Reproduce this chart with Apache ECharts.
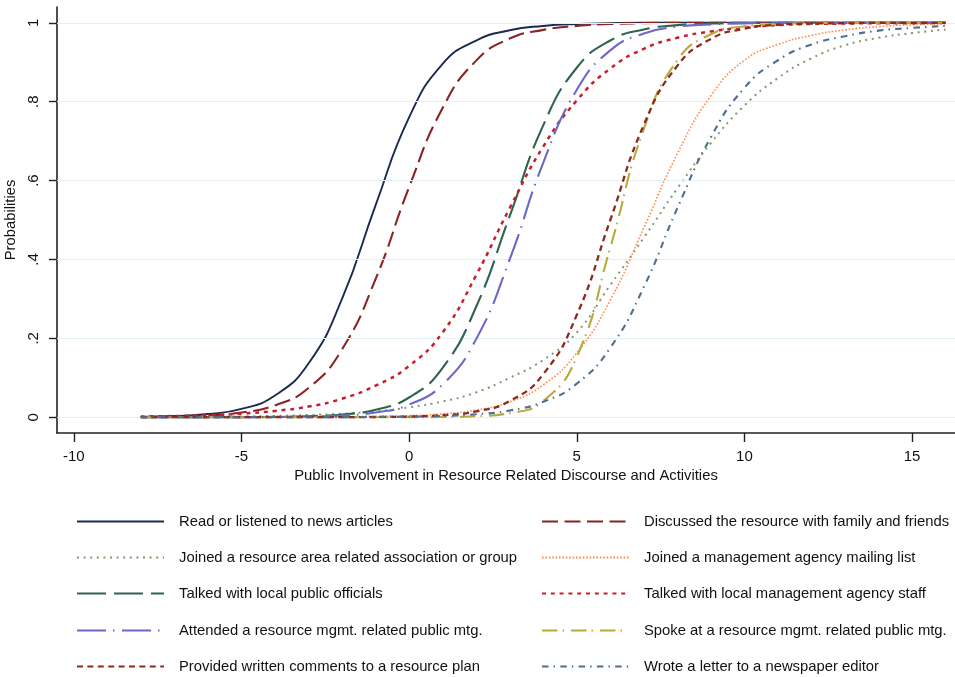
<!DOCTYPE html>
<html>
<head>
<meta charset="utf-8">
<script src="https://cdn.jsdelivr.net/npm/echarts@6/dist/echarts.min.js"></script>
<style>html,body{margin:0;padding:0;background:#fff}#c{width:955px;height:677px}</style>
</head>
<body>
<div id="c"></div>
<script>
// x positions of the read values
const xs = [-8,-7,-6,-5,-4,-3,-2,-1,0,1,2,3,4,5,6,7,8,9,10,11,12,13,14,15,16];
const yTicks = [0,0.2,0.4,0.6,0.8,1];
const xTicks = [-10,-5,0,5,10,15];

const readNews   = [0.001,0.003,0.008,0.021,0.055,0.136,0.30,0.537,0.76,0.896,0.955,0.981,0.992,0.997,0.999,1,1,1,1,1,1,1,1,1,1];
const discussed  = [0.0007,0.0018,0.0046,0.012,0.030,0.074,0.172,0.35,0.583,0.784,0.904,0.96,0.982,0.992,0.997,0.999,1,1,1,1,1,1,1,1,1];
const assoc      = [0.0005,0.0008,0.0013,0.002,0.0034,0.0056,0.009,0.015,0.025,0.04,0.063,0.1,0.145,0.215,0.335,0.455,0.58,0.695,0.79,0.86,0.91,0.943,0.962,0.974,0.983];
const mailing    = [0,0.0001,0.0002,0.0003,0.0005,0.0009,0.0015,0.0025,0.004,0.0085,0.018,0.039,0.082,0.163,0.297,0.48,0.668,0.815,0.905,0.945,0.968,0.982,0.99,0.995,0.997];
const officials  = [0,0,0.0001,0.0003,0.001,0.0026,0.007,0.019,0.05,0.125,0.28,0.51,0.74,0.886,0.955,0.983,0.994,0.998,0.999,1,1,1,1,1,1];
const staff      = [0.002,0.003,0.005,0.009,0.016,0.027,0.047,0.08,0.13,0.215,0.36,0.53,0.686,0.803,0.884,0.934,0.962,0.978,0.988,0.994,0.997,0.998,0.999,0.999,1];
const attended   = [0,0,0,0.0002,0.0006,0.0017,0.0045,0.012,0.032,0.083,0.198,0.40,0.645,0.83,0.93,0.973,0.99,0.996,0.999,1,1,1,1,1,1];
const spoke      = [0,0,0,0,0,0,0,0,0.0001,0.0006,0.0025,0.0103,0.041,0.153,0.43,0.731,0.905,0.971,0.991,0.997,0.999,1,1,1,1];
const provided   = [0,0,0,0,0,0.0001,0.0002,0.0006,0.0018,0.0052,0.0146,0.041,0.109,0.259,0.5,0.741,0.891,0.959,0.985,0.995,0.998,0.999,1,1,1];
const letter     = [0.0001,0.0001,0.0001,0.0001,0.0001,0.0001,0.0003,0.0006,0.0014,0.0033,0.0076,0.017,0.039,0.085,0.176,0.33,0.53,0.71,0.835,0.905,0.945,0.966,0.98,0.987,0.992];

const names = [
  'Read or listened to news articles',
  'Discussed the resource with family and friends',
  'Joined a resource area related association or group',
  'Joined a management agency mailing list',
  'Talked with local public officials',
  'Talked with local management agency staff',
  'Attended a resource mgmt. related public mtg.',
  'Spoke at a resource mgmt. related public mtg.',
  'Provided written comments to a resource plan',
  'Wrote a letter to a newspaper editor'
];
const values = [readNews, discussed, assoc, mailing, officials, staff, attended, spoke, provided, letter];
const styles = [
  {color:'#1b2a4e', width:1.9, type:'solid'},
  {color:'#8a2424', width:2.1, type:[16,6.5]},
  {color:'#86966e', width:2, type:[2,4.6]},
  {color:'#ff8a4c', width:1.6, type:[1.6,1.8]},
  {color:'#2f654c', width:2.1, type:[29,8]},
  {color:'#c91d2e', width:2.5, type:[4,4.8]},
  {color:'#6c68c9', width:2.1, type:[29,7,1.5,7.5]},
  {color:'#b9aa3c', width:2.1, type:[15.5,5,1.5,7]},
  {color:'#8c2a1e', width:2.3, type:[6,4.4]},
  {color:'#4f6f91', width:2.1, type:[6.5,5,1.5,5.3]}
];

const FONT = 'Liberation Sans, Arial, Helvetica, sans-serif';
const series = [{
  type:'line', data:[], z:1, silent:true,
  markLine:{silent:true, symbol:'none', label:{show:false},
    lineStyle:{color:'#e4eff3', width:1.2, type:'solid'},
    data: yTicks.map(v=>({yAxis:v}))}
}];
names.forEach((n,i)=>{
  series.push({
    name:n, type:'line', z:2+i, symbol:'none', smooth:0.5,
    data: xs.map((x,j)=>[x, values[i][j]]),
    lineStyle:{color:styles[i].color, width:styles[i].width, type:styles[i].type},
    itemStyle:{color:styles[i].color}
  });
});

// legend: two columns, five rows (row-major order as in the original)
const rowCenters = [522, 558, 594, 631, 667];
const colLefts = [76, 541];
const legends = names.map((n,i)=>({
  orient:'horizontal', left:colLefts[i%2], top:rowCenters[Math.floor(i/2)]-8,
  itemWidth:87, itemHeight:14, padding:0,
  textStyle:{fontFamily:FONT, fontSize:14.8, color:'#111', padding:[0,0,0,10]},
  itemStyle:{opacity:0, color:'rgba(0,0,0,0)', borderWidth:0},
  selectedMode:false, data:[n]
}));

const chart = echarts.init(document.getElementById('c'), null, {renderer:'canvas'});
chart.setOption({
  animation:false,
  backgroundColor:'#fff',
  grid:{left:57, right:0, top:7, bottom:244, containLabel:false, outerBoundsMode:'none'},
  xAxis:{type:'value', min:-10.5, max:16.28,
    name:'Public Involvement in Resource Related Discourse and Activities',
    nameLocation:'middle', nameGap:33,
    nameTextStyle:{fontFamily:FONT, fontSize:14.8, color:'#111'},
    axisLine:{show:true, onZero:false, lineStyle:{color:'#222', width:1.6}},
    axisTick:{show:true, length:9, customValues:xTicks, lineStyle:{color:'#222', width:1.4}},
    axisLabel:{customValues:xTicks, margin:16, fontFamily:FONT, fontSize:15, color:'#111'},
    splitLine:{show:false}
  },
  yAxis:{type:'value', min:-0.04, max:1.04,
    name:'Probabilities', nameLocation:'middle', nameGap:33,
    nameTextStyle:{fontFamily:FONT, fontSize:14.8, color:'#111'},
    axisLine:{show:true, onZero:false, lineStyle:{color:'#222', width:1.6}},
    axisTick:{show:true, length:8, customValues:yTicks, lineStyle:{color:'#222', width:1.4}},
    axisLabel:{customValues:yTicks, rotate:90, margin:16, fontFamily:FONT, fontSize:15, color:'#111',
      formatter:v=>{ if (Math.abs(v)<1e-9) return '0'; if (Math.abs(v-1)<1e-9) return '1'; return String(Math.round(v*10)/10).replace(/^0/,''); }},
    splitLine:{show:false}
  },
  legend: legends,
  series: series
});
</script>
</body>
</html>
